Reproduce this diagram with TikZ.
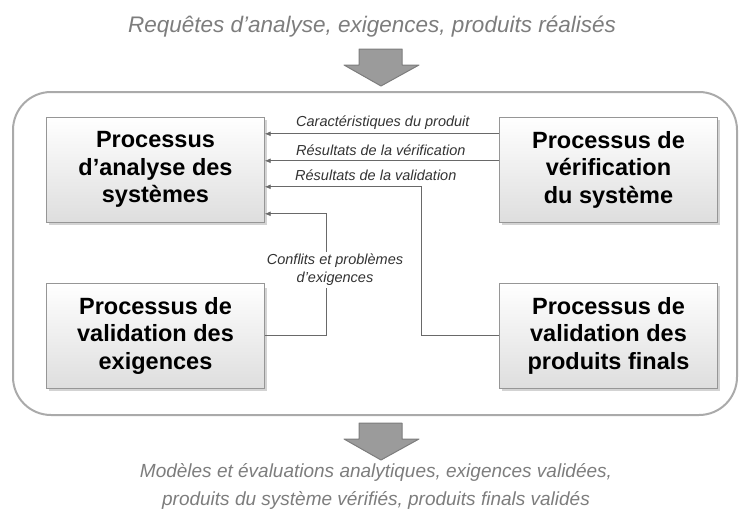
\documentclass[tikz,border=0pt]{standalone}
\usepackage{fontspec}
\setmainfont{Liberation Sans}
\usetikzlibrary{arrows.meta,shadows}
\definecolor{txtgray}{RGB}{125,125,125}
\definecolor{linkgray}{RGB}{105,105,105}
\definecolor{boxline}{RGB}{150,150,150}
\definecolor{framegray}{RGB}{170,170,170}
\definecolor{arrowfill}{RGB}{155,155,155}
\definecolor{arrowline}{RGB}{125,125,125}
\begin{document}
\begin{tikzpicture}[
  x=1pt, y=-1pt,
  proc/.style={draw=boxline, top color=white, bottom color=black!13, minimum width=218pt, minimum height=105pt,
    align=center, font=\fontsize{23.5}{27.5}\selectfont\bfseries,
    drop shadow={shadow xshift=2pt, shadow yshift=-2.5pt, opacity=0.35}},
  note/.style={font=\fontsize{14.5}{18}\selectfont\itshape, text=black!80, inner sep=1pt},
  flowtext/.style={font=\fontsize{19}{28}\selectfont\itshape, text=txtgray, align=center},
  link/.style={draw=linkgray, line width=0.9pt, -{Latex[length=6pt,width=5pt]}},
  bigarrow/.style={fill=arrowfill, draw=arrowline, line width=1pt, line join=round}
]
\useasboundingbox (0,0) rectangle (742,520);
% Input and output
\node[flowtext, font=\fontsize{22.5}{28}\selectfont\itshape] (inp) at (372,27) {Requêtes d’analyse, exigences, produits réalisés};
\node[flowtext] (outp) at (376,486) {Modèles et évaluations analytiques, exigences validées,\\produits du système vérifiés, produits finals validés};
\draw[bigarrow] (359,49) -- (402,49) -- (402,65) -- (419,65) -- (381,86) -- (344,65) -- (359,65) -- cycle;
\draw[bigarrow] (359,423) -- (402,423) -- (402,439) -- (419,439) -- (381,460) -- (344,439) -- (359,439) -- cycle;
% Frame
\draw[draw=framegray, line width=2pt, rounded corners=38pt] (13,92) rectangle (737,415);
% Define the nodes
\node[proc] (A) at (155.5,169.5) {Processus\\d’analyse des\\systèmes};
\node[proc] (B) at (608.5,169.5) {Processus de\\vérification\\du système};
\node[proc] (C) at (155.5,335.5) {Processus de\\validation des\\exigences};
\node[proc] (D) at (608.5,335.5) {Processus de\\validation des\\produits finals};
% Define the edges
\draw[link] ([yshift=-17pt]B.north west) -- ([yshift=-17pt]A.north east);
\draw[link] ([yshift=-44pt]B.north west) -- ([yshift=-44pt]A.north east);
\draw[link] (D.west) -- ++(-78,0) |- ([yshift=-70pt]A.north east);
\draw[link] (C.east) -- ++(62,0) |- ([yshift=-97pt]A.north east);
% Edge labels
\node[note, anchor=west] (l1) at (295,123) {Caractéristiques du produit};
\node[note, anchor=west] (l2) at (295,150) {Résultats de la vérification};
\node[note, anchor=west] (l3) at (294,175) {Résultats de la validation};
\node[note, fill=white, align=center, inner sep=2pt] (l4) at (335,270) {Conflits et problèmes\\d’exigences};
\end{tikzpicture}
\end{document}
